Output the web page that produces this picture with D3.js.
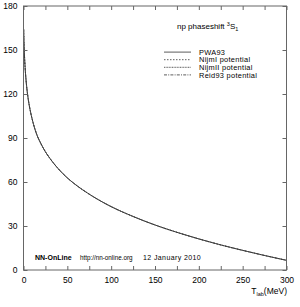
<!DOCTYPE html>
<html>
<head>
<meta charset="utf-8">
<script src="https://cdn.jsdelivr.net/npm/d3@7"></script>
<style>
  body { margin: 0; background: #fff; }
  svg { font-family: "Liberation Sans", Arial, sans-serif; }
</style>
</head>
<body>
<svg id="chart" width="300" height="307"></svg>
<script>
// lab energies (MeV)
var tlab = [0.2, 0.5, 1, 2, 3, 5, 7.5, 10, 15, 20, 25, 30, 40, 50, 60, 75, 100, 125, 150, 175, 200, 225, 250, 275, 300];
// 3S1 phase shifts (deg)
var pwa93 = [164, 156, 147.7, 136.5, 128.8, 118.2, 109.3, 102.6, 92.6, 86.0, 80.6, 76.2, 68.8, 62.8, 57.9, 51.7, 43.2, 36.5, 30.7, 25.7, 21.2, 17.1, 13.4, 9.9, 6.6];
var nijm1 = [164, 156, 147.7, 136.5, 128.8, 118.2, 109.3, 102.6, 92.6, 86.0, 80.6, 76.2, 68.8, 62.8, 57.9, 51.7, 43.2, 36.5, 30.7, 25.7, 21.2, 17.1, 13.4, 9.9, 6.6];
var nijm2 = [164, 156, 147.7, 136.5, 128.8, 118.2, 109.3, 102.6, 92.6, 86.0, 80.6, 76.2, 68.8, 62.8, 57.9, 51.7, 43.2, 36.5, 30.7, 25.7, 21.2, 17.1, 13.4, 9.9, 6.6];
var reid93 = [164, 156, 147.7, 136.5, 128.8, 118.2, 109.3, 102.6, 92.6, 86.0, 80.6, 76.2, 68.8, 62.8, 57.9, 51.7, 43.2, 36.5, 30.7, 25.7, 21.2, 17.1, 13.4, 9.9, 6.6];

var seriesNames = ["PWA93", "NijmI potential", "NijmII potential", "Reid93 potential"];
var xTicks = [0, 25, 50, 75, 100, 125, 150, 175, 200, 225, 250, 275, 300];
var yTicks = [0, 30, 60, 90, 120, 150, 180];

var svg = d3.select("#chart");
var axisColor = "#666";
var lineColor = "#333";

var x = d3.scaleLinear().domain([0, 300]).range([23.5, 286.5]);
var y = d3.scaleLinear().domain([0, 180]).range([270, 6]);

// dash patterns for the 4 curves
var dashes = [null, "1.5,1.5", "1,0.6", "3,1.2,1,1.2"];

var allSeries = [pwa93, nijm1, nijm2, reid93];

var line = d3
  .line()
  .x((d) => x(d[0]))
  .y((d) => y(d[1]))
  .curve(d3.curveMonotoneX);

var curves = svg.append("g");
allSeries.forEach(function (vals, i) {
  var pts = tlab.map((t, j) => [t, vals[j]]);
  curves
    .append("path")
    .datum(pts)
    .attr("d", line)
    .attr("fill", "none")
    .attr("stroke", lineColor)
    .attr("stroke-width", 0.7)
    .attr("stroke-dasharray", dashes[i]);
});

// axes, ticks pointing inward
function styleAxis(g) {
  g.select(".domain").remove();
  g.selectAll(".tick line").attr("stroke", axisColor);
  g.selectAll(".tick text").attr("fill", "#000").attr("font-size", 8.5);
  g.attr("font-family", null);
}

var xBottom = d3
  .axisBottom(x)
  .tickValues(xTicks)
  .tickSize(-4)
  .tickPadding(7)
  .tickFormat((d) => (d % 50 == 0 ? d : ""));
svg.append("g").attr("transform", "translate(0,270)").call(xBottom).call(styleAxis);

var xTop = d3.axisTop(x).tickValues(xTicks).tickSize(-4).tickFormat("");
svg.append("g").attr("transform", "translate(0,6)").call(xTop).call(styleAxis);

var yLeft = d3.axisLeft(y).tickValues(yTicks).tickSize(-4).tickPadding(6);
svg.append("g").attr("transform", "translate(23.5,0)").call(yLeft).call(styleAxis);

var yRight = d3.axisRight(y).tickValues(yTicks).tickSize(-4).tickFormat("");
svg.append("g").attr("transform", "translate(286.5,0)").call(yRight).call(styleAxis);

svg
  .append("rect")
  .attr("x", x(0))
  .attr("y", y(180))
  .attr("width", x(300) - x(0))
  .attr("height", y(0) - y(180))
  .attr("fill", "none")
  .attr("stroke", axisColor)
  .attr("stroke-width", 1);

// x axis title
var xt = svg
  .append("text")
  .attr("x", 287)
  .attr("y", 294)
  .attr("text-anchor", "end")
  .attr("font-size", 8.5);
xt.append("tspan").text("T");
xt.append("tspan").attr("font-size", 5.5).attr("dy", 1.5).text("lab");
xt.append("tspan").attr("dy", -1.5).text("(MeV)");

// legend
var title = svg.append("text").attr("x", 177).attr("y", 29).attr("font-size", 8);
title.append("tspan").text("np phaseshift ");
title.append("tspan").attr("font-size", 5.5).attr("dy", -3).text("3");
title.append("tspan").attr("dy", 3).text("S");
title.append("tspan").attr("font-size", 5.5).attr("dy", 1.5).text("1");

var legend = svg.append("g");
seriesNames.forEach(function (name, i) {
  var by = 54.8 + i * 7.6;
  legend
    .append("line")
    .attr("x1", 164)
    .attr("x2", 191)
    .attr("y1", by - 2.7)
    .attr("y2", by - 2.7)
    .attr("stroke", lineColor)
    .attr("stroke-width", 0.8)
    .attr("stroke-dasharray", dashes[i]);
  legend
    .append("text")
    .attr("x", 199)
    .attr("y", by)
    .attr("font-size", 7.4)
    .attr("letter-spacing", 0.3)
    .text(name);
});

// footer
svg
  .append("text")
  .attr("x", 35)
  .attr("y", 260)
  .attr("font-size", 7)
  .attr("font-weight", "bold")
  .text("NN-OnLine");
svg
  .append("text")
  .attr("x", 80)
  .attr("y", 260)
  .attr("font-size", 6.3)
  .text("http://nn-online.org");
svg
  .append("text")
  .attr("x", 143)
  .attr("y", 260)
  .attr("font-size", 7)
  .attr("letter-spacing", 0.4)
  .text("12 January 2010");
</script>
</body>
</html>
